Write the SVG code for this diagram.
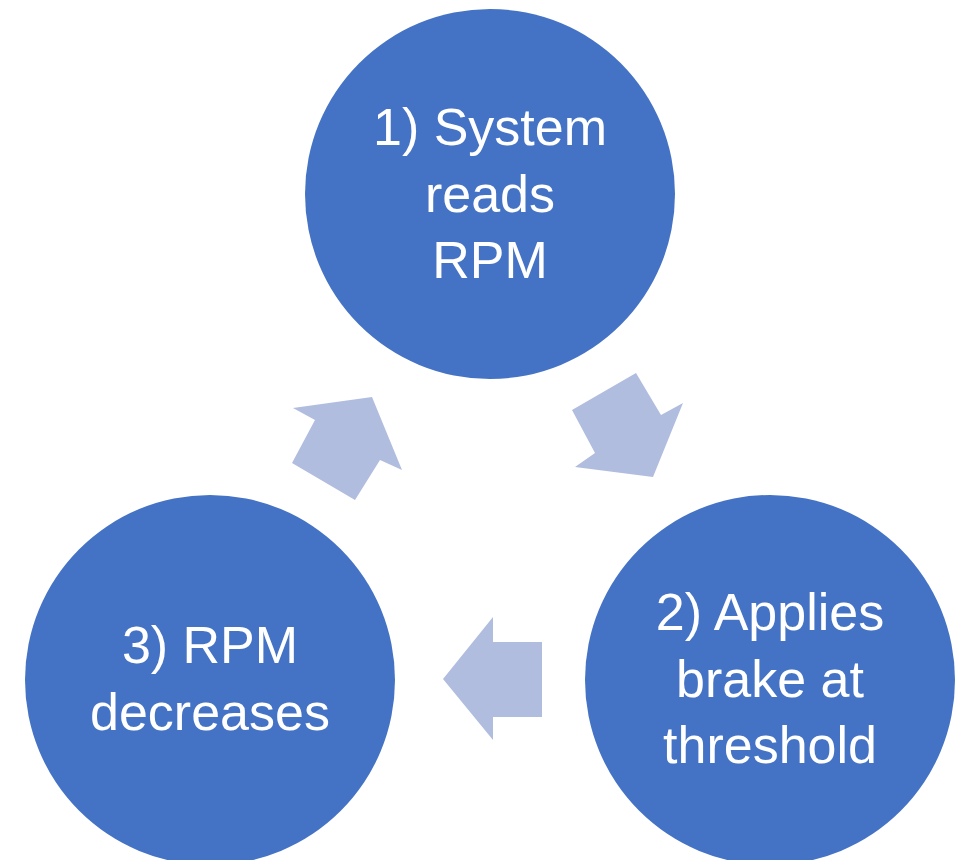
<svg xmlns="http://www.w3.org/2000/svg" width="967" height="860" viewBox="0 0 967 860">
<style>
.node{fill:#4472C4}
.arrow{fill:#B0BDDF}
.lbl{fill:#FFFFFF;font-family:"Liberation Sans",Arial,sans-serif;font-size:52px;text-anchor:middle}
</style>
<rect width="967" height="860" fill="#FFFFFF"/>
<g id="node1">
<circle class="node" cx="490" cy="194" r="185"/>
<text class="lbl" x="490" y="145">1) System</text>
<text class="lbl" x="490" y="212">reads</text>
<text class="lbl" x="490" y="278">RPM</text>
</g>
<g id="node2">
<circle class="node" cx="770" cy="680" r="185"/>
<text class="lbl" x="770" y="630">2) Applies</text>
<text class="lbl" x="770" y="697">brake at</text>
<text class="lbl" x="770" y="763">threshold</text>
</g>
<g id="node3">
<circle class="node" cx="210" cy="680" r="185"/>
<text class="lbl" x="210" y="663">3) RPM</text>
<text class="lbl" x="210" y="730">decreases</text>
</g>
<g id="connectors">
<polygon class="arrow" points="572,410 636,373 661,415 683,403 653,477 575,467 595,453"/>
<polygon class="arrow" points="443,679 493,617 493,642 542,642 542,717 493,717 493,740"/>
<polygon class="arrow" points="293,408 372,397 402,470 380,460 355,500 292,463 315,420"/>
</g>
</svg>
